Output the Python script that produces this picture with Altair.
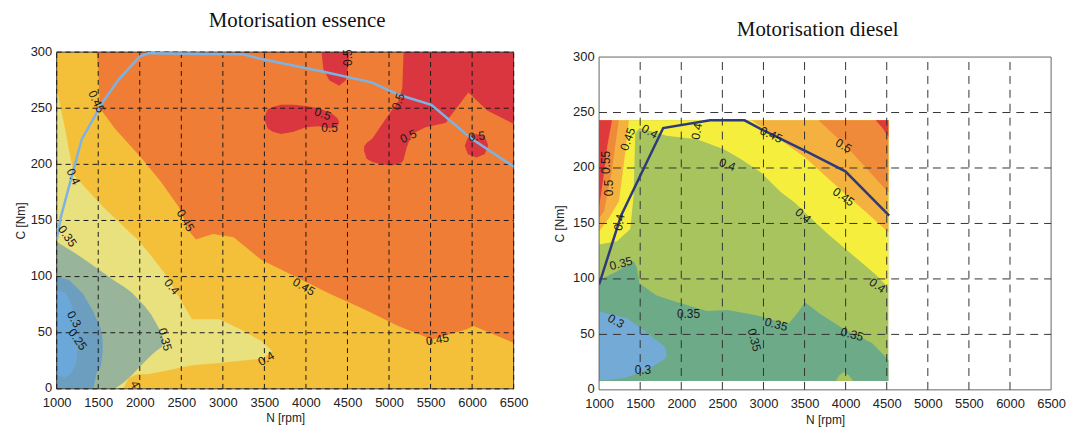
import altair as alt
import pandas as pd

N_TICKS = [1000, 1500, 2000, 2500, 3000, 3500, 4000, 4500, 5000, 5500, 6000, 6500]
C_TICKS = [0, 50, 100, 150, 200, 250, 300]

# ---------------- Motorisation essence ----------------
ESS_TORQUE_N = [1000, 1050, 1300, 1550, 1750, 2000, 2100, 3250, 3450, 4240, 4790, 5115, 5510, 5990, 6500]
ESS_TORQUE_C = [133, 153, 222, 255, 276, 296, 299, 298, 294, 282, 273, 262, 253, 223, 198]

# efficiency bands as (N, C_low, C_high), drawn in this order
ESS_BAND_045 = [(1000, 0, 300), (6500, 0, 300)]
ESS_BAND_040 = [(1000, 0, 300), (1480, 0, 300), (1500, 0, 285), (1520, 0, 250), (1700, 0, 232),
                (2015, 0, 206), (2250, 0, 185), (2470, 0, 162), (2600, 0, 140), (2675, 0, 133),
                (2880, 0, 138), (3130, 0, 135), (3460, 0, 115), (3870, 0, 100), (4280, 0, 85),
                (4700, 0, 71), (5110, 0, 56), (5520, 0, 44), (5935, 0, 53), (6020, 0, 56), (6500, 0, 41)]
ESS_BAND_035 = [(1000, 0, 268), (1050, 0, 250), (1100, 0, 232), (1150, 0, 212), (1210, 0, 190),
                (1560, 0, 162), (1800, 0, 145), (1870, 10, 140), (1975, 13, 133), (2100, 13, 122),
                (2300, 16, 103), (2630, 21, 62), (2960, 23, 62), (3210, 25, 53), (3480, 27, 42),
                (3590, 33, 34)]
ESS_BAND_030 = [(1000, 0, 131), (1200, 0, 122), (1400, 0, 112), (1646, 0, 99), (1700, 0, 96),
                (1810, 6, 91), (1900, 12, 86), (2056, 24, 74), (2139, 30, 66), (2200, 34, 58),
                (2262, 37, 50), (2290, 41, 43)]
ESS_BAND_025 = [(1000, 0, 100), (1150, 0, 97), (1314, 0, 85), (1440, 0, 69), (1480, 14, 62),
                (1530, 20, 54), (1550, 30, 45), (1555, 38, 39)]
ESS_BAND_020 = [(1000, 12, 88), (1100, 10, 86), (1180, 14, 75), (1230, 22, 60), (1255, 38, 47),
                (1260, 43, 43)]
ESS_BAND_050_A = [(4190, 298, 300), (4210, 285, 300), (4280, 275, 300), (4400, 270, 300),
                  (4480, 275, 300), (4515, 290, 300), (4525, 300, 300)]
ESS_BAND_050_B = [(3500, 240, 242), (3540, 232, 249), (3600, 229, 251), (3700, 227, 253),
                  (3850, 229, 253), (4000, 233, 252), (4150, 234, 250), (4300, 232, 246),
                  (4380, 234, 241), (4400, 237, 238)]
ESS_BAND_050_C = [(4700, 212, 216), (4730, 205, 219), (4800, 202, 223), (4900, 200, 234),
                  (5030, 199, 248), (5110, 200, 256), (5160, 202, 268), (5175, 204, 300),
                  (5213, 215, 300), (5275, 227, 300), (5440, 233, 300), (5687, 237, 300),
                  (5720, 241, 300), (5955, 264, 300), (6182, 248, 300), (6500, 236, 300)]
ESS_BAND_050_D = [(5914, 216, 217), (5950, 209, 224), (6050, 206, 227), (6150, 209, 225),
                  (6190, 216, 218)]

ESS_REGIONS = [
    (ESS_BAND_045, "#ef7d35"),
    (ESS_BAND_040, "#f4c03a"),
    (ESS_BAND_035, "#e9e07e"),
    (ESS_BAND_030, "#98b59c"),
    (ESS_BAND_025, "#6c9ec0"),
    (ESS_BAND_020, "#6aa8da"),
    (ESS_BAND_050_A, "#d9363f"),
    (ESS_BAND_050_B, "#d9363f"),
    (ESS_BAND_050_C, "#d9363f"),
    (ESS_BAND_050_D, "#d9363f"),
]

ESS_LABEL_TEXT = ["0.45", "0.4", "0.35", "0.45", "0.4", "0.45", "0.3", "0.25", "0.35", "0.4",
                  "0.45", "0.5", "0.5", "0.5", "0.5", "0.5", "0.5", "4"]
ESS_LABEL_N = [1480, 1200, 1128, 2551, 2386, 3975, 1210, 1252, 2304, 3521,
               5584, 4202, 4284, 5233, 6056, 5110, 4511, 1945]
ESS_LABEL_C = [256, 189, 136, 150, 91, 91, 62, 44, 44, 27,
               44, 245, 232, 225, 225, 256, 295, 4]
ESS_LABEL_ANGLE = [65, 65, 55, 60, 50, 30, 60, 55, 75, 330,
                   350, 20, 0, 335, 355, 290, 270, 60]

# ---------------- Motorisation diesel ----------------
DSL_TORQUE_N = [1000, 1267, 1780, 2350, 2770, 2970, 3545, 3997, 4530]
DSL_TORQUE_C = [95, 157, 236, 243, 243, 235, 214, 197, 157]

DSL_BAND_035 = [(1000, 8, 243), (4520, 8, 243)]
DSL_BAND_030 = [(1000, 8, 99), (1200, 8, 106), (1423, 8, 116), (1460, 8, 110), (1490, 8, 96),
                (1700, 8, 85), (1903, 8, 80), (2313, 8, 71), (2560, 8, 72), (2929, 8, 67),
                (3298, 8, 59), (3420, 8, 70), (3504, 8, 79), (3700, 8, 68), (3955, 8, 56),
                (4324, 8, 42), (4520, 8, 27)]
DSL_BAND_035_B = [(3880, 8, 8), (3920, 8, 13), (3975, 8, 16), (4040, 8, 13), (4090, 8, 8)]
DSL_BAND_025 = [(1000, 9, 71), (1082, 9, 69), (1328, 11, 65), (1369, 12, 63), (1616, 19, 50),
                (1657, 21, 47), (1800, 28, 39), (1821, 30, 32), (1825, 31, 31)]
DSL_BAND_040 = [(1000, 131, 243), (1218, 134, 243), (1380, 145, 243), (1420, 175, 243),
                (1440, 231, 243), (1493, 236, 243), (1821, 229, 243), (2190, 226, 243),
                (2518, 217, 243), (2724, 208, 243), (2970, 196, 243), (3216, 178, 243),
                (3380, 169, 243), (3545, 157, 243), (3791, 140, 243), (4078, 122, 243),
                (4365, 104, 243), (4520, 92, 243)]
DSL_BAND_045_L = [(1000, 143, 243), (1121, 155, 243), (1242, 170, 243), (1320, 215, 243),
                  (1363, 243, 243)]
DSL_BAND_050_L = [(1000, 155, 243), (1060, 161, 243), (1150, 195, 243), (1240, 243, 243)]
DSL_BAND_055_L = [(1000, 165, 243), (1050, 190, 243), (1100, 220, 243), (1157, 243, 243)]
DSL_BAND_045_R = [(2850, 243, 243), (3093, 231, 243), (3500, 210, 243), (3975, 178, 243),
                  (4250, 160, 243), (4520, 142, 243)]
DSL_BAND_050_R = [(3668, 243, 243), (3975, 222, 243), (4250, 200, 243), (4520, 178, 243)]
DSL_BAND_055_R = [(4365, 243, 243), (4450, 236, 243), (4520, 228, 243)]

DSL_REGIONS = [
    (DSL_BAND_035, "#a8c45f"),
    (DSL_BAND_030, "#6caa88"),
    (DSL_BAND_035_B, "#a8c45f"),
    (DSL_BAND_025, "#74abd6"),
    (DSL_BAND_040, "#f6ee3c"),
    (DSL_BAND_045_L, "#f5b13f"),
    (DSL_BAND_050_L, "#ef8a3a"),
    (DSL_BAND_055_L, "#e0393b"),
    (DSL_BAND_045_R, "#f5b13f"),
    (DSL_BAND_050_R, "#ef8a3a"),
    (DSL_BAND_055_R, "#e0393b"),
]

DSL_LABEL_TEXT = ["0.45", "0.4", "0.4", "0.45", "0.5", "0.4", "0.45", "0.4", "0.4", "0.35",
                  "0.35", "0.35", "0.35", "0.35", "0.3", "0.3", "0.4", "0.55", "0.5"]
DSL_LABEL_N = [1349, 1616, 2190, 3093, 3975, 2560, 3975, 3483, 4386, 1267,
               2088, 3155, 2888, 4078, 1205, 1534, 1246, 1090, 1125]
DSL_LABEL_C = [226, 233, 233, 230, 220, 203, 174, 157, 94, 114,
               68, 59, 45, 50, 62, 18, 151, 205, 182]
DSL_LABEL_ANGLE = [290, 30, 280, 25, 30, 20, 35, 40, 35, 345,
                   0, 15, 75, 15, 30, 0, 280, 270, 270]

SANS = "Liberation Sans"
SERIF = "Liberation Serif"


def panel(regions, t_n, t_c, t_color, l_text, l_n, l_c, l_ang, title, title_x, title_y,
          width, height, yrange, grid_color, grid_dash, grid_all, frame_color, ytitle_x,
          xtitle_y, helper):
    xs = alt.Scale(domain=[N_TICKS[0], N_TICKS[-1]], nice=False, zero=False)
    if yrange is None:
        ys = alt.Scale(domain=[C_TICKS[0], C_TICKS[-1]], nice=False, zero=False)
    else:
        ys = alt.Scale(domain=[C_TICKS[0], C_TICKS[-1]], nice=False, zero=False, range=yrange)
    top = yrange[1] if yrange else 0

    xaxis = alt.Axis(values=N_TICKS, format="d", title="N [rpm]", labelFont=SANS,
                     labelFontSize=13, labelColor="#222222", ticks=False, domain=False,
                     grid=False, labelPadding=8, labelFlush=False, labelOverlap=False,
                     titleFont=SANS, titleFontSize=12, titleFontWeight="normal",
                     titleColor="#222222", titleY=xtitle_y, titleBaseline="middle")
    yaxis = alt.Axis(values=C_TICKS, format="d", title="C [Nm]", labelFont=SANS,
                     labelFontSize=13, labelColor="#222222", ticks=False, domain=False,
                     grid=False, labelPadding=5, labelOverlap=False, labelOffset=-1,
                     titleFont=SANS, titleFontSize=12, titleFontWeight="normal",
                     titleColor="#222222", titleX=ytitle_x, titleY=(height + top) / 2,
                     titleBaseline="middle")

    def X(f):
        return alt.X(f, scale=xs, axis=xaxis)

    def Y(f):
        return alt.Y(f, scale=ys, axis=yaxis)

    layers = []
    for pts, col in regions:
        df = pd.DataFrame(pts, columns=["N", "lo", "hi"])
        layers.append(
            alt.Chart(df).mark_area(color=col, opacity=1, interpolate="linear").encode(
                x=X("N:Q"), y=Y("lo:Q"), y2="hi:Q")
        )

    gn = N_TICKS if grid_all else N_TICKS[1:-1]
    gc = C_TICKS if grid_all else C_TICKS[1:-1]
    gv = pd.DataFrame({"N": gn, "c0": C_TICKS[0], "c1": C_TICKS[-1]})
    gh = pd.DataFrame({"C": gc, "n0": N_TICKS[0], "n1": N_TICKS[-1]})
    fv = pd.DataFrame({"N": [N_TICKS[0], N_TICKS[-1]], "c0": C_TICKS[0], "c1": C_TICKS[-1]})
    fh = pd.DataFrame({"C": [C_TICKS[0], C_TICKS[-1]], "n0": N_TICKS[0], "n1": N_TICKS[-1]})
    layers.append(
        alt.Chart(fv).mark_rule(color=frame_color, strokeWidth=1).encode(
            x=X("N:Q"), y=Y("c0:Q"), y2="c1:Q")
    )
    layers.append(
        alt.Chart(fh).mark_rule(color=frame_color, strokeWidth=1).encode(
            y=Y("C:Q"), x=X("n0:Q"), x2="n1:Q")
    )
    layers.append(
        alt.Chart(gv).mark_rule(color=grid_color, strokeWidth=1, strokeDash=grid_dash).encode(
            x=X("N:Q"), y=Y("c0:Q"), y2="c1:Q")
    )
    layers.append(
        alt.Chart(gh).mark_rule(color=grid_color, strokeWidth=1, strokeDash=grid_dash).encode(
            y=Y("C:Q"), x=X("n0:Q"), x2="n1:Q")
    )

    tdf = pd.DataFrame({"N": t_n, "C": t_c})
    layers.append(
        alt.Chart(tdf).mark_line(color=t_color, strokeWidth=2.5, clip=True).encode(
            x=X("N:Q"), y=Y("C:Q"))
    )

    ldf = pd.DataFrame({"t": l_text, "N": l_n, "C": l_c, "a": l_ang})
    layers.append(
        alt.Chart(ldf).mark_text(font=SANS, fontSize=12, color="#1a1a1a").encode(
            x=X("N:Q"), y=Y("C:Q"), text="t:N", angle=alt.Angle("a:Q", scale=None))
    )

    layers.append(
        alt.Chart(pd.DataFrame({"t": [title]})).mark_text(
            font=SERIF, fontSize=21, color="#111111", align="center", baseline="middle").encode(
            text="t:N", x=alt.value(title_x), y=alt.value(title_y))
    )

    if helper:
        layers.append(
            alt.Chart(pd.DataFrame({"k": [0]})).mark_rule(color="#ffffff", strokeWidth=1).encode(
                x=alt.value(-48), x2=alt.value(-47), y=alt.value(-42), y2=alt.value(-42))
        )

    return alt.layer(*layers).properties(width=width, height=height)


ess = panel(ESS_REGIONS, ESS_TORQUE_N, ESS_TORQUE_C, "#7db3e4",
            ESS_LABEL_TEXT, ESS_LABEL_N, ESS_LABEL_C, ESS_LABEL_ANGLE,
            "Motorisation essence", 242, -31, 460, 339, None,
            "#1a1a1a", [5, 4], True, "#3a3a3a", -36, 29, True)
dsl = panel(DSL_REGIONS, DSL_TORQUE_N, DSL_TORQUE_C, "#2e3a7a",
            DSL_LABEL_TEXT, DSL_LABEL_N, DSL_LABEL_C, DSL_LABEL_ANGLE,
            "Motorisation diesel", 220, -22, 455, 340, [340, 5],
            "#333333", [8, 6], False, "#666666", -40, 30, False)

chart = alt.hconcat(ess, dsl, spacing=86, bounds="flush").properties(
    padding=0
).configure_view(stroke=None)

chart.save("out.html", embed_options={"renderer": "svg", "actions": False})
